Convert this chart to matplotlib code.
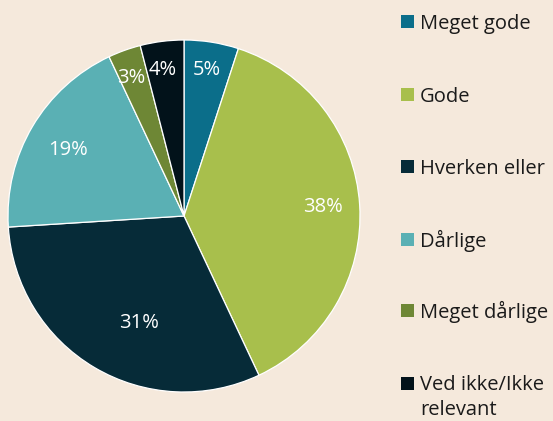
import matplotlib
matplotlib.use("Agg")
import matplotlib.pyplot as plt
import matplotlib.patches as mpatches
import numpy as np

categories = ["Meget gode", "Gode", "Hverken eller", "Dårlige", "Meget dårlige", "Ved ikke/Ikke\nrelevant"]
values = [5, 38, 31, 19, 3, 4]
labels = ["5%", "38%", "31%", "19%", "3%", "4%"]
colors = ["#0b6e8a", "#a8bf4c", "#062b38", "#5ab0b4", "#6e8735", "#02121a"]
label_r = [0.84, 0.79, 0.66, 0.76, 0.84, 0.84]
label_dang = [0, 0, 8, 1, 1, 1]

BG = "#f5e9dc"
W, H = 553, 421
fig = plt.figure(figsize=(W / 100, H / 100), dpi=100, facecolor=BG)
plt.rcParams['font.family'] = ['Open Sans', 'DejaVu Sans']

cx, cy, R = 184, 216, 176
ax = fig.add_axes([(cx - R) / W, (H - cy - R) / H, 2 * R / W, 2 * R / H])
ax.set_facecolor(BG)
wedges, _ = ax.pie(values, colors=colors, startangle=90, counterclock=False,
                   wedgeprops=dict(edgecolor="white", linewidth=0.9), radius=1.0)
ax.set_xlim(-1, 1)
ax.set_ylim(-1, 1)
ax.set_aspect("equal")
ax.axis("off")

for w, lab, r, da in zip(wedges, labels, label_r, label_dang):
    ang = np.deg2rad((w.theta1 + w.theta2) / 2 + da)
    ax.text(r * np.cos(ang), r * np.sin(ang), lab, color="white", fontsize=14.5,
            ha="center", va="center")

rows_y = [21.5, 94, 166.5, 239, 310.5, 383]
line_step = 24.5
for cat, col, y in zip(categories, colors, rows_y):
    fig.patches.append(mpatches.Rectangle((401 / W, (H - y - 6.5) / H), 13 / W, 13 / H,
                                          transform=fig.transFigure, facecolor=col,
                                          edgecolor="none"))
    nl = cat.count("\n")
    fig.text(420 / W, (H - y - 7.8 - nl * line_step) / H, cat, fontsize=14.5, color="#1a1a1a",
             ha="left", va="baseline", linespacing=1.32)

fig.savefig("out.png", dpi=100, facecolor=BG)
